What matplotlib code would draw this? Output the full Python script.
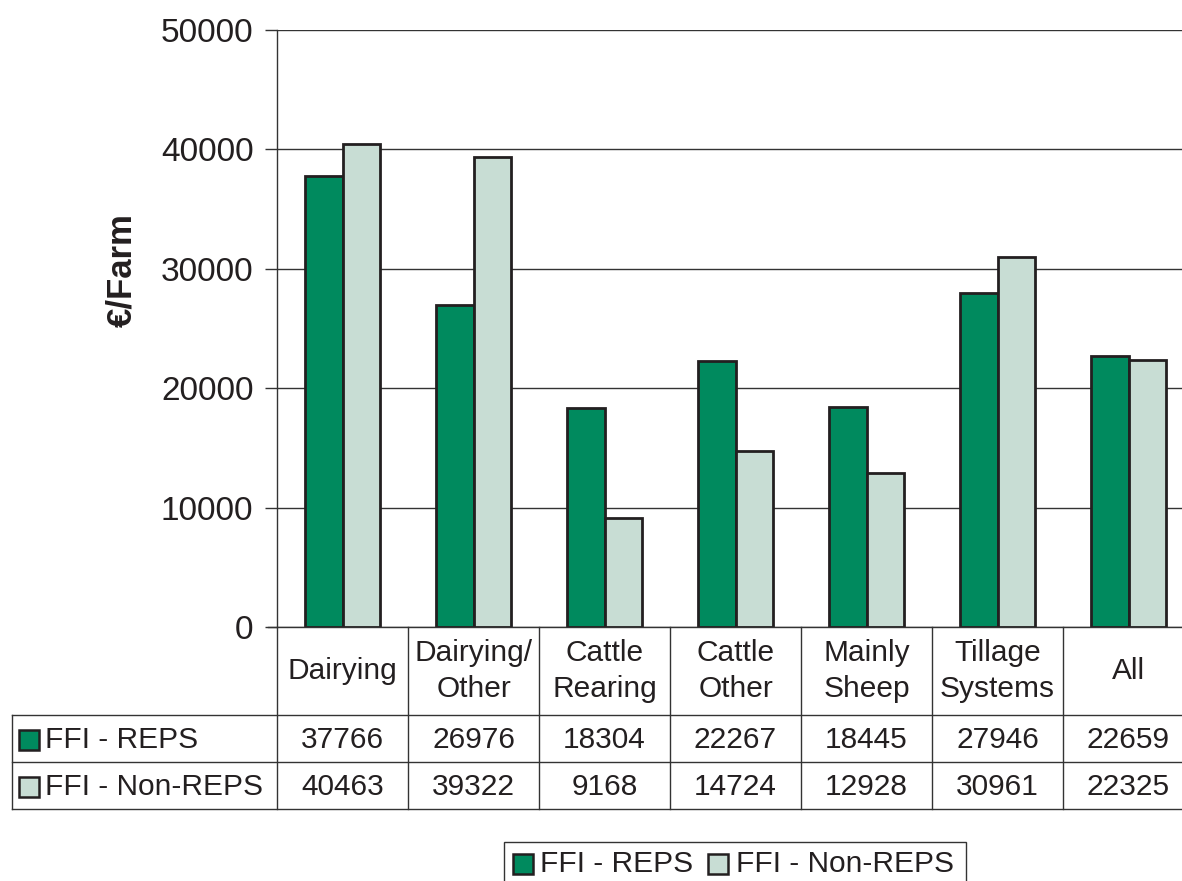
import matplotlib.pyplot as plt
from matplotlib import transforms
from matplotlib.patches import Rectangle

plt.rcParams["font.family"] = ["Liberation Sans", "DejaVu Sans"]

categories = ["Dairying", "Dairying/\nOther", "Cattle\nRearing", "Cattle\nOther",
              "Mainly\nSheep", "Tillage\nSystems", "All"]
reps = [37766, 26976, 18304, 22267, 18445, 27946, 22659]
non_reps = [40463, 39322, 9168, 14724, 12928, 30961, 22325]
series_names = ["FFI - REPS", "FFI - Non-REPS"]
colors = ["#008A5E", "#C8DDD4"]
yticks = [0, 10000, 20000, 30000, 40000, 50000]

W, H = 1182, 881
fig = plt.figure(figsize=(W / 100, H / 100), dpi=100)


def fx(px):
    return px / W


def fy(py):
    return 1 - py / H


# axes: left 277px, bottom 627px, top 30px, right past the figure edge
ax = fig.add_axes([fx(277), fy(627), fx(1194) - fx(277), fy(30) - fy(627)])
x = list(range(len(categories)))
bw = 0.285
edge = "#231F20"
ax.bar([i - bw / 2 for i in x], reps, bw, color=colors[0], edgecolor=edge, linewidth=2.0, zorder=3)
ax.bar([i + bw / 2 for i in x], non_reps, bw, color=colors[1], edgecolor=edge, linewidth=2.0, zorder=3)
ax.set_xlim(-0.5, len(categories) - 0.5)
ax.set_ylim(0, 50000)
ax.set_yticks(yticks)
ax.set_yticklabels([str(v) for v in yticks], fontsize=24, color="#231F20")
ax.tick_params(axis="y", length=9, width=1, color="#333333", pad=8)
ax.set_xticks([])
ax.yaxis.grid(True, color="#333333", linewidth=1)
ax.set_axisbelow(True)
for s in ["top", "right", "bottom"]:
    ax.spines[s].set_visible(False)
ax.spines["left"].set_color("#333333")
ax.spines["left"].set_linewidth(1)
fig.text(fx(122), fy(270), "€/Farm", rotation=90, ha="center", va="center",
         fontsize=25, fontweight="bold", color="#231F20")

# data table below the axes
tr = transforms.blended_transform_factory(ax.transData, fig.transFigure)
lc = "#333333"
lw = 1.0
y_axis, y_r1, y_r2, y_end = 627, 715, 762, 809
# x axis line with the zero tick
fig.add_artist(plt.Line2D([fx(268), fx(1194)], [fy(y_axis)] * 2, color=lc, lw=lw))
for yy in [y_r1, y_r2, y_end]:
    fig.add_artist(plt.Line2D([fx(12), fx(1194)], [fy(yy)] * 2, color=lc, lw=lw))
fig.add_artist(plt.Line2D([fx(12)] * 2, [fy(y_r1), fy(y_end)], color=lc, lw=lw))
for b in range(len(categories) + 1):
    xb = b - 0.5
    fig.add_artist(plt.Line2D([xb, xb], [fy(y_axis), fy(y_end)], color=lc, lw=lw, transform=tr))

for i, cat in enumerate(categories):
    fig.text(i, fy(671), cat, transform=tr, ha="center", va="center",
             fontsize=21.5, color="#231F20", linespacing=1.38)
    fig.text(i, fy(740), str(reps[i]), transform=tr, ha="center", va="center",
             fontsize=21.5, color="#231F20")
    fig.text(i, fy(787), str(non_reps[i]), transform=tr, ha="center", va="center",
             fontsize=21.5, color="#231F20")

# row labels with swatches
for yy, name, c in [(740, series_names[0], colors[0]), (787, series_names[1], colors[1])]:
    fig.add_artist(Rectangle((fx(19), fy(yy + 10)), fx(20), fy(0) - fy(20),
                             facecolor=c, edgecolor=edge, linewidth=1.8, transform=fig.transFigure))
    fig.text(fx(45), fy(yy), name, ha="left", va="center", fontsize=21.5, color="#231F20")

# legend at the bottom
fig.add_artist(Rectangle((fx(504), fy(895)), fx(966) - fx(504), fy(842) - fy(895),
                         facecolor="white", edgecolor=lc, linewidth=lw, transform=fig.transFigure))
for sx, tx, name, c in [(513, 540, series_names[0], colors[0]), (708, 736, series_names[1], colors[1])]:
    fig.add_artist(Rectangle((fx(sx), fy(874)), fx(20), fy(0) - fy(20),
                             facecolor=c, edgecolor=edge, linewidth=1.8, transform=fig.transFigure))
    fig.text(fx(tx), fy(864), name, ha="left", va="center", fontsize=21.5, color="#231F20")

fig.savefig("out.png", dpi=100)
